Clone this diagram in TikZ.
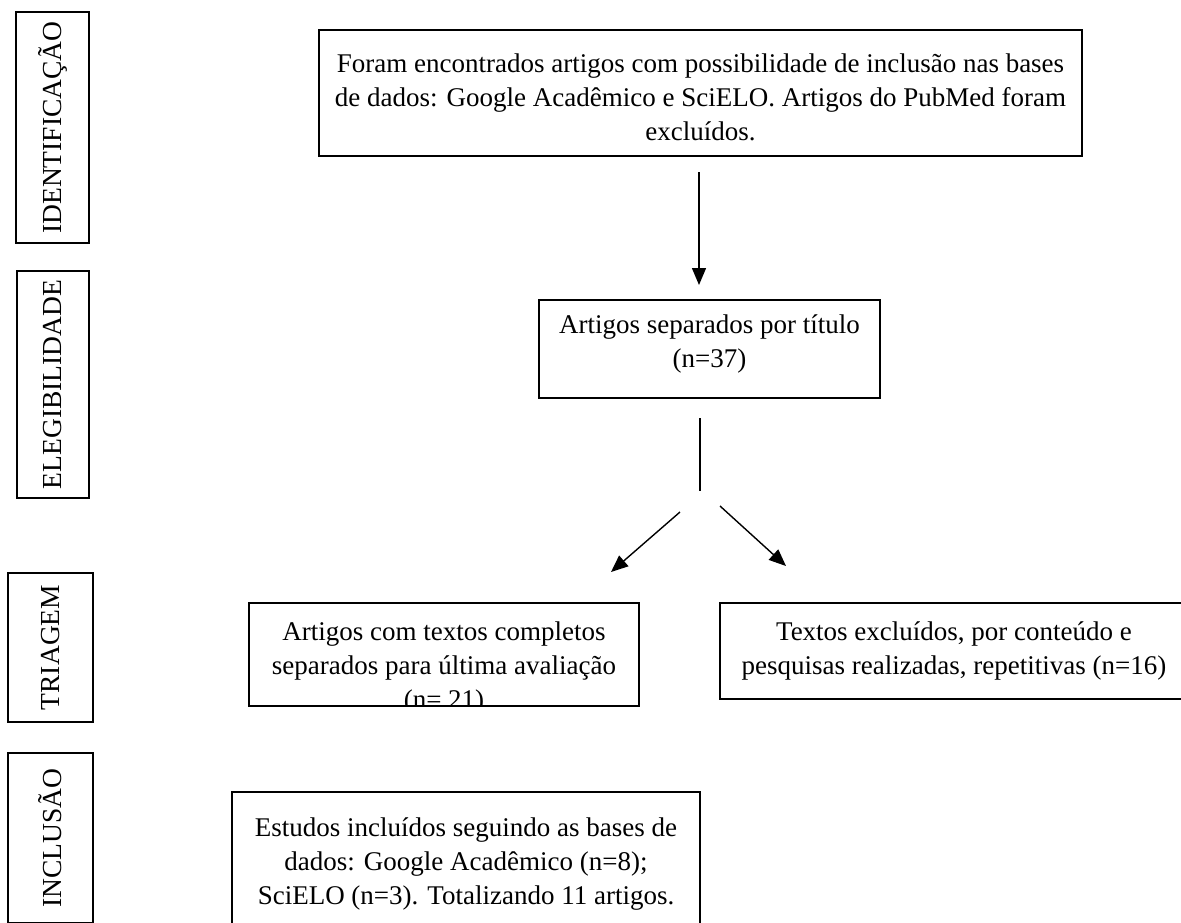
\documentclass[tikz,border=0pt]{standalone}
\usepackage{fontspec}
\setmainfont{Liberation Serif}
\usetikzlibrary{arrows.meta}
\begin{document}
\begin{tikzpicture}[x=1pt,y=-1pt,
  frame/.style={draw, line width=2.2pt, rectangle, inner sep=0pt},
  txt/.style={align=center, font=\fontsize{27}{34}\selectfont, inner sep=0pt},
  lab/.style={draw, line width=2pt, rectangle, inner sep=0pt, rotate=90, font=\fontsize{27.5}{34}\selectfont},
  arr/.style={line width=1.4pt, -{Triangle[length=17pt,width=14pt]}},
  ln/.style={line width=1.4pt}]
\clip (0,0) rectangle (1181,922);
\fill[white] (0,0) rectangle (1181,922);
% stage labels
\node[lab, minimum width=231pt, minimum height=73pt] (id) at (52.5,127.5) {IDENTIFICAÇÃO};
\node[lab, minimum width=227pt, minimum height=72pt] (el) at (53,384.5) {ELEGIBILIDADE};
\node[lab, minimum width=149pt, minimum height=85pt] (tr) at (50.5,647.5) {TRIAGEM};
\node[lab, minimum width=170pt, minimum height=85pt] (in) at (50.5,838) {INCLUSÃO};
% box A
\node[frame, minimum width=763pt, minimum height=126pt] (A) at (700.5,93) {};
\node[txt] (At) at (700.5,97) {Foram encontrados artigos com possibilidade de inclusão nas bases\\de dados: Google Acadêmico e SciELO. Artigos do PubMed foram\\excluídos.};
% box B
\node[frame, minimum width=341pt, minimum height=98pt] (B) at (709.5,349) {};
\node[txt] (Bt) at (709.5,344) {Artigos separados por título\\(n=37)};
% connectors
\coordinate (a1) at (699,172);
\coordinate (a2) at (699,285);
\draw[arr] (a1) -- (a2);
\coordinate (v1) at (700,418);
\coordinate (v2) at (700,491);
\draw[ln] (v1) -- (v2);
\coordinate (l1) at (680,512);
\coordinate (l2) at (611,572);
\coordinate (r1) at (720,506);
\coordinate (r2) at (786,566);
\draw[arr] (l1) -- (l2);
\draw[arr] (r1) -- (r2);
% box C (text overflows and is cut by its frame)
\begin{scope}
\clip (249,603) rectangle (639,706);
\node[txt] (Ct) at (444,668) {Artigos com textos completos\\separados para última avaliação\\(n= 21)};
\end{scope}
\node[frame, minimum width=390pt, minimum height=103pt] (C) at (444,654.5) {};
% box D
\node[frame, minimum width=468pt, minimum height=96pt] (D) at (954,651) {};
\node[txt] (Dt) at (954,651) {Textos excluídos, por conteúdo e\\pesquisas realizadas, repetitivas (n=16)};
% box E
\node[frame, minimum width=468pt, minimum height=144pt] (E) at (466,864) {};
\node[txt] (Et) at (466,864) {Estudos incluídos seguindo as bases de\\dados: Google Acadêmico (n=8);\\SciELO (n=3). Totalizando 11 artigos.};
\end{tikzpicture}
\end{document}
